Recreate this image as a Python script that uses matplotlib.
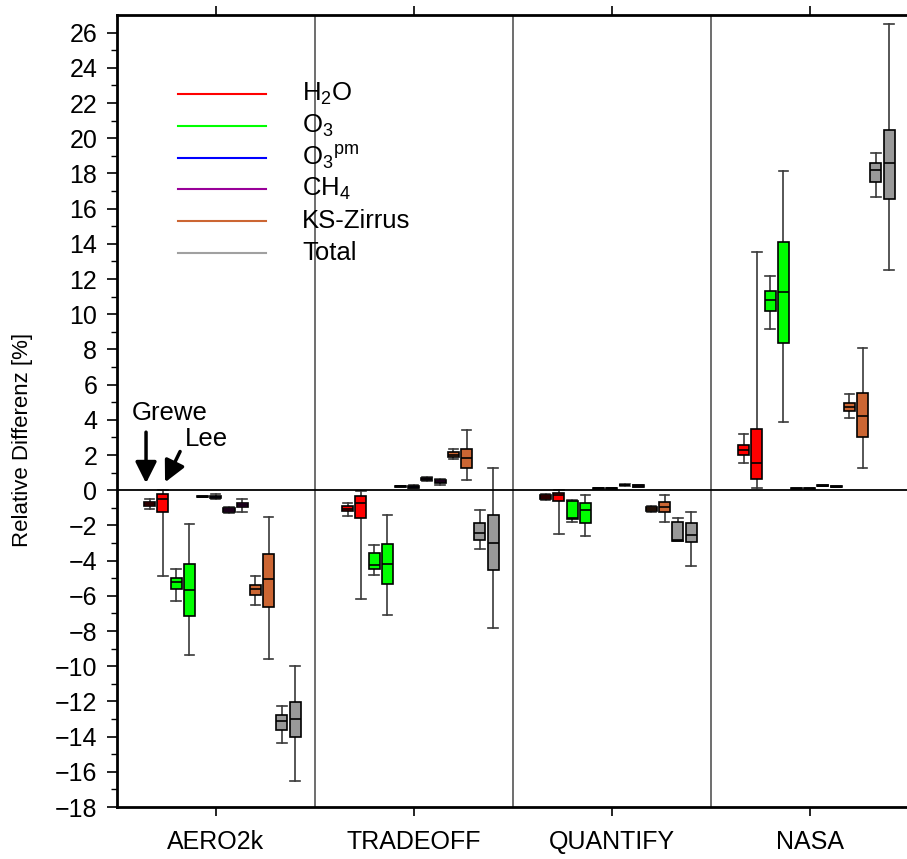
import numpy as np
import matplotlib as mpl
mpl.use("Agg")
import matplotlib.pyplot as plt

mpl.rc("font", family="Liberation Sans")
mpl.rc("mathtext", default="regular")

projects = ["AERO2k", "TRADEOFF", "QUANTIFY", "NASA"]
species = ["H$_2$O", "O$_3$", "O$_3{}^{pm}$", "CH$_4$", "KS-Zirrus", "Total"]
colors = ["#ff0000", "#00ff00", "#0000ff", "#990099", "#cc6633", "#999999"]
legend_colors = ["#ff0000", "#00ff00", "#0000ff", "#990099", "#cc6633", "#a0a0a0"]

# per species: whisker low, q1, median, q3, whisker high  [%]
aero2k_grewe = [[-1.08, -0.89, -0.80, -0.66, -0.51],
                [-6.32, -5.62, -5.19, -4.96, -4.49],
                [-0.40, -0.38, -0.36, -0.33, -0.30],
                [-1.32, -1.25, -1.14, -1.02, -0.95],
                [-6.53, -5.94, -5.64, -5.37, -4.86],
                [-14.38, -13.62, -13.11, -12.77, -12.24]]
aero2k_lee = [[-4.86, -1.21, -0.51, -0.23, 0.0],
              [-9.35, -7.17, -5.66, -4.18, -1.93],
              [-0.47, -0.44, -0.36, -0.32, -0.23],
              [-1.21, -0.97, -0.83, -0.72, -0.51],
              [-9.61, -6.62, -5.05, -3.60, -1.51],
              [-16.50, -14.04, -13.00, -12.02, -9.97]]
tradeoff_grewe = [[-1.44, -1.17, -1.04, -0.91, -0.70],
                  [-4.81, -4.47, -4.22, -3.58, -3.14],
                  [0.20, 0.21, 0.22, 0.23, 0.24],
                  [0.55, 0.57, 0.62, 0.69, 0.78],
                  [1.76, 1.89, 2.02, 2.16, 2.33],
                  [-3.33, -2.80, -2.42, -1.85, -1.15]]
tradeoff_lee = [[-6.19, -1.59, -0.70, -0.32, -0.04],
                [-7.10, -5.30, -4.20, -3.07, -1.42],
                [0.11, 0.13, 0.18, 0.22, 0.28],
                [0.30, 0.40, 0.48, 0.57, 0.66],
                [0.57, 1.29, 1.82, 2.36, 3.42],
                [-7.83, -4.56, -2.99, -1.40, 1.27]]
quantify_grewe = [[-0.55, -0.47, -0.38, -0.28, -0.23],
                  [-1.78, -1.63, -1.57, -0.62, -0.57],
                  [0.08, 0.09, 0.10, 0.11, 0.12],
                  [0.26, 0.28, 0.30, 0.32, 0.34],
                  [-1.21, -1.17, -1.04, -0.95, -0.89],
                  [-2.91, -2.86, -2.82, -1.80, -1.59]]
quantify_lee = [[-2.48, -0.64, -0.28, -0.13, 0.0],
                [-2.61, -1.84, -1.12, -0.72, -0.28],
                [0.07, 0.09, 0.10, 0.12, 0.13],
                [0.18, 0.21, 0.25, 0.29, 0.32],
                [-1.80, -1.25, -0.93, -0.66, -0.28],
                [-4.31, -2.95, -2.55, -1.86, -1.23]]
nasa_grewe = [[1.53, 2.02, 2.29, 2.55, 3.18],
              [9.14, 10.18, 10.80, 11.34, 12.17],
              [0.07, 0.08, 0.09, 0.10, 0.11],
              [0.22, 0.24, 0.26, 0.28, 0.30],
              [4.09, 4.48, 4.75, 4.98, 5.49],
              [16.65, 17.50, 18.18, 18.58, 19.15]]
nasa_lee = [[0.15, 0.66, 1.57, 3.50, 13.53],
            [3.88, 8.36, 11.28, 14.12, 18.11],
            [0.07, 0.08, 0.09, 0.10, 0.11],
            [0.16, 0.18, 0.21, 0.23, 0.26],
            [1.29, 3.05, 4.24, 5.55, 8.06],
            [12.49, 16.56, 18.60, 20.48, 26.51]]

grewe = [aero2k_grewe, tradeoff_grewe, quantify_grewe, nasa_grewe]
lee = [aero2k_lee, tradeoff_lee, quantify_lee, nasa_lee]

fig = plt.figure(figsize=(9.07, 8.59), dpi=100)
ax = fig.add_axes([0.1287, 0.0605, 0.8732, 0.922])

step = 0.0668
width = 0.056
for p in range(len(projects)):
    for model, data in enumerate([grewe[p], lee[p]]):
        stats, pos = [], []
        for s, row in enumerate(data):
            lo, q1, med, q3, hi = row
            stats.append(dict(whislo=lo, q1=q1, med=med, q3=q3, whishi=hi, fliers=[]))
            pos.append(p + 1 - 0.334 + (2*s + model)*step)
        bp = ax.bxp(stats, positions=pos, widths=width, capwidths=width*0.85,
                    patch_artist=True, showfliers=False, manage_ticks=False,
                    boxprops=dict(edgecolor="k", linewidth=1.2),
                    medianprops=dict(color="k", linewidth=1.2, zorder=4),
                    whiskerprops=dict(color="#3a3a3a", linewidth=1.2),
                    capprops=dict(color="#3a3a3a", linewidth=1.2))
        for box, c in zip(bp["boxes"], colors):
            box.set_facecolor(c)
            box.set_zorder(3)

for xs in [1.5, 2.5, 3.5]:
    ax.axvline(xs, color="#555555", lw=1.2, zorder=1)
ax.axhline(0, color="k", lw=1.3, zorder=2)

ax.set_xlim(0.5, 4.5)
ax.set_ylim(-18, 27)
ax.set_yticks(np.arange(-18, 27, 2))
ax.set_yticks(np.arange(-18, 27, 1), minor=True)
ax.set_xticks(np.arange(1, 5))
ax.set_xticklabels(projects)
ax.tick_params(axis="y", which="major", direction="out", length=7, width=1.2,
               labelsize=18, pad=7, right=False)
ax.tick_params(axis="y", which="minor", direction="out", length=4.5, width=1.0, right=False)
ax.tick_params(axis="x", which="major", direction="out", length=6.5, width=1.2,
               labelsize=18, pad=10, top=True)
for side in ["left", "top", "bottom"]:
    ax.spines[side].set_linewidth(2)
ax.spines["right"].set_visible(False)

ax.set_ylabel("Relative Differenz [%]", fontsize=16)
ax.yaxis.set_label_coords(-0.106, 0.463)

# legend drawn by hand
for i, (lab, c) in enumerate(zip(species, legend_colors)):
    y = 0.90 - 0.04*i
    ax.plot([0.0774, 0.1885], [y, y], color=c, lw=1.5, transform=ax.transAxes,
            clip_on=False, zorder=4)
    ax.text(0.234, y, lab, transform=ax.transAxes, fontsize=18.5, va="center", ha="left",
            zorder=4)

# Grewe / Lee arrows
ax.annotate("", xy=(0.648, 0.4), xytext=(0.648, 3.3),
            arrowprops=dict(arrowstyle="-|>", lw=2.5, color="k", mutation_scale=32,
                            shrinkA=0, shrinkB=0))
ax.annotate("", xy=(0.744, 0.45), xytext=(0.82, 2.2),
            arrowprops=dict(arrowstyle="-|>", lw=2.5, color="k", mutation_scale=32,
                            shrinkA=0, shrinkB=0))
ax.text(0.769, 4.4, "Grewe", fontsize=18.5, ha="center", va="center")
ax.text(0.951, 2.9, "Lee", fontsize=18.5, ha="center", va="center")

fig.savefig("out.png", dpi=100)
